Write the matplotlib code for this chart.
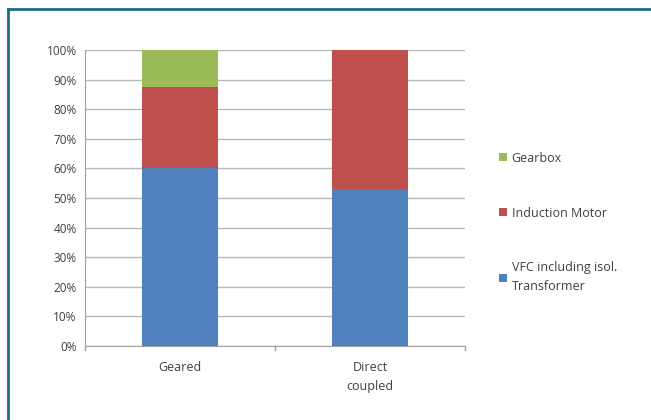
import matplotlib
matplotlib.use("Agg")
import matplotlib.pyplot as plt
from matplotlib.lines import Line2D
import numpy as np

categories = ["Geared", "Direct\ncoupled"]
vfc = [60, 53]
motor = [27.5, 47]
gearbox = [12.5, 0]
series_labels = ["VFC including isol.\nTransformer", "Induction Motor", "Gearbox"]
colors = ["#4F81BD", "#C0504D", "#9BBB59"]
yticks = [0, 10, 20, 30, 40, 50, 60, 70, 80, 90, 100]

plt.rcParams['font.family'] = ['Open Sans', 'DejaVu Sans']
fig = plt.figure(figsize=(6.51, 4.2), dpi=100)
ax = fig.add_axes([85/651, 74/420, 380/651, 296/420])

x = np.arange(len(categories))
bottom = np.zeros(len(categories))
bars = []
for vals, lab, col in zip([vfc, motor, gearbox], series_labels, colors):
    b = ax.bar(x, vals, width=0.4, bottom=bottom, color=col, label=lab, zorder=3)
    bars.append(b)
    bottom += np.array(vals)

ax.set_xlim(-0.5, 1.5)
ax.set_ylim(0, 100)
ax.set_yticks(yticks)
ax.set_yticklabels([f"{v}%" for v in yticks])
ax.set_xticks(x)
ax.set_xticklabels(categories, linespacing=1.6)
ax.tick_params(axis='x', length=0, pad=11, labelsize=9, colors='#404040')
ax.tick_params(axis='y', length=0, pad=6, labelsize=8.5, colors='#404040')
for t in [-0.5, 0.5, 1.5]:
    ax.plot([t, t], [0, -1.2], color='#a0a0a0', lw=1, clip_on=False)
ax.grid(axis='y', color='#b8b8b8', lw=1, zorder=0)
for s in ['top', 'right']:
    ax.spines[s].set_visible(False)
ax.spines['left'].set_color('#a0a0a0')
ax.spines['bottom'].set_color('#a0a0a0')

handles = [bars[2], bars[1], bars[0]]
labels = [series_labels[2], series_labels[1], series_labels[0]]
leg = fig.legend(handles, labels, loc='center left', bbox_to_anchor=(488/651, 0.47),
                 frameon=False, fontsize=9, handlelength=0.6, handleheight=0.6,
                 handletextpad=0.4, labelspacing=3.35, labelcolor='#404040')
for t in leg.get_texts():
    t.set_linespacing(1.6)

fig.add_artist(Line2D([8/651, 8/651], [0, 1 - 9/420], color='#1f6a8a', lw=2))
fig.add_artist(Line2D([8/651, 1], [1 - 9/420, 1 - 9/420], color='#1f6a8a', lw=2))

fig.savefig("out.png", dpi=100)
